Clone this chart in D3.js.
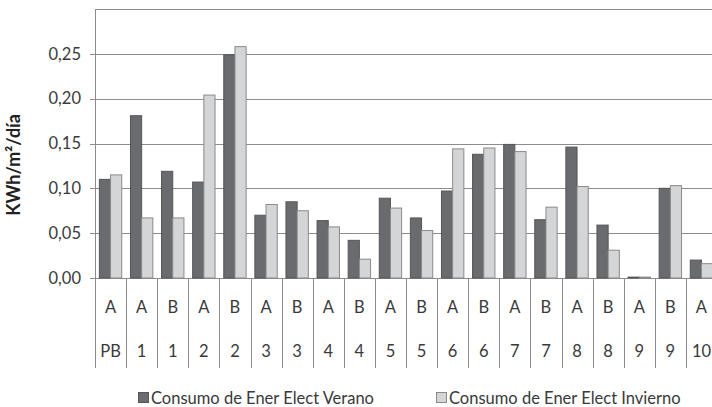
<!DOCTYPE html>
<html><head><meta charset="utf-8">
<script src="https://cdn.jsdelivr.net/npm/d3@7"></script>
<style>html,body{margin:0;padding:0;background:#fff;}svg{display:block;}</style>
</head><body>
<script>
const levels = ["A","A","B","A","B","A","B","A","B","A","B","A","B","A","B","A","B","A","B","A"];
const floors = ["PB","1","1","2","2","3","3","4","4","5","5","6","6","7","7","8","8","9","9","10"];
const verano = [0.110,0.181,0.119,0.107,0.249,0.070,0.085,0.064,0.042,0.089,0.067,0.097,0.138,0.149,0.065,0.146,0.059,0.001,0.100,0.020];
const invierno = [0.115,0.067,0.067,0.204,0.258,0.082,0.075,0.057,0.021,0.078,0.053,0.144,0.145,0.141,0.079,0.102,0.031,0.001,0.103,0.016];
const yTicks = [0,0.05,0.10,0.15,0.20,0.25];
const seriesNames = ["Consumo de Ener Elect Verano","Consumo de Ener Elect Invierno"];

const W=712,H=407;
const FONT="Lato, 'Open Sans', sans-serif";
const FS=16.5;
const TXT="#3a3a3a";
const svg=d3.select("body").append("svg").attr("width",W).attr("height",H);

const pLeft=95, pTop=9, pBase=278, catW=31.1;
const idx=d3.range(levels.length);
const x=d3.scaleBand().domain(idx).range([pLeft,pLeft+catW*levels.length]).padding(0);
const x1=d3.scaleBand().domain([0,1]).range([0,x.bandwidth()]).paddingInner(0).paddingOuter(0.39);
const y=d3.scaleLinear().domain([0,0.30]).range([pBase,pTop]);

// gridlines + ticks
svg.append("g").selectAll("line").data(yTicks.concat([0.30])).join("line")
  .attr("x1",d=>d===0.30?pLeft:pLeft-5).attr("x2",W)
  .attr("y1",d=>Math.round(y(d))+0.5).attr("y2",d=>Math.round(y(d))+0.5)
  .attr("stroke","#8c8c8c").attr("stroke-width",1);

// y labels
svg.append("g").selectAll("text").data(yTicks).join("text")
  .attr("x",81).attr("y",d=>y(d)).attr("dy","0.35em").attr("text-anchor","end")
  .attr("font-family",FONT).attr("font-size",FS).attr("fill",TXT)
  .text(d=>d3.format(".2f")(d).replace(".",","));

// y title
svg.append("text").attr("transform","translate(20,165) rotate(-90)")
  .attr("text-anchor","middle").attr("font-family",FONT).attr("font-weight","bold")
  .attr("font-size",18).attr("fill","#222").text("KWh/m²/día");

// bars
const cols=[{fill:"#6a6b6e",stroke:"#555658"},{fill:"#d4d5d7",stroke:"#8a8a8c"}];
[verano,invierno].forEach((vals,s)=>{
  svg.append("g").selectAll("rect").data(idx).join("rect")
    .attr("x",i=>x(i)+x1(s)).attr("width",x1.bandwidth())
    .attr("y",i=>y(vals[i])).attr("height",i=>pBase-y(vals[i]))
    .attr("fill",cols[s].fill).attr("stroke",cols[s].stroke).attr("stroke-width",1);
});

// category axis: separators
svg.append("g").selectAll("line").data(d3.range(levels.length+1)).join("line")
  .attr("x1",i=>Math.round(pLeft+i*catW)+0.5).attr("x2",i=>Math.round(pLeft+i*catW)+0.5)
  .attr("y1",i=>i===0?pTop:pBase).attr("y2",368)
  .attr("stroke","#8c8c8c").attr("stroke-width",1);

const lab=svg.append("g").attr("font-family",FONT).attr("font-size",FS).attr("fill",TXT).attr("text-anchor","middle");
lab.selectAll("text.l").data(idx).join("text").attr("class","l")
  .attr("x",i=>x(i)+x.bandwidth()/2).attr("y",307).attr("dy","0.35em").text(i=>levels[i]);
lab.selectAll("text.f").data(idx).join("text").attr("class","f")
  .attr("x",i=>x(i)+x.bandwidth()/2).attr("y",351).attr("dy","0.35em").text(i=>floors[i]);

// legend
const legX=[138,436];
seriesNames.forEach((n,s)=>{
  const g=svg.append("g").attr("transform",`translate(${legX[s]},0)`);
  g.append("rect").attr("x",0.5).attr("y",392.5).attr("width",10).attr("height",10)
    .attr("fill",cols[s].fill).attr("stroke",cols[s].stroke);
  g.append("text").attr("x",13).attr("y",398).attr("dy","0.35em")
    .attr("font-family",FONT).attr("font-size",FS).attr("fill",TXT).text(n);
});
</script>
</body></html>
